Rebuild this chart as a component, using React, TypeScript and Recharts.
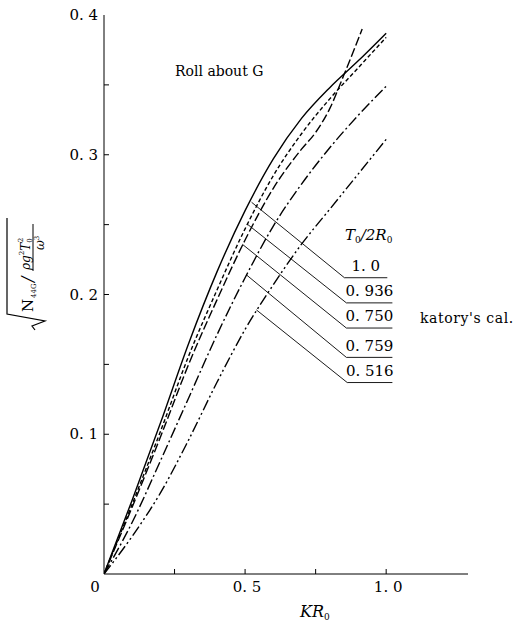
import React from 'react';
import { LineChart, Line, XAxis, YAxis, ReferenceLine, ReferenceDot } from 'recharts';

// KR0 sample points and sqrt(N44G / (rho g^2 T0^2 / w^3))
const kr = [0, 0.1, 0.2, 0.3, 0.4, 0.5, 0.6, 0.7, 0.8, 0.9, 1.0];
const rollT100 = [0, 0.053, 0.108, 0.165, 0.216, 0.26, 0.297, 0.326, 0.348, 0.367, 0.387];
const rollT0936 = [0, 0.05, 0.102, 0.156, 0.203, 0.247, 0.285, 0.315, 0.34, 0.362, 0.384];
const krT0750 = [0, 0.1, 0.2, 0.3, 0.4, 0.5, 0.6, 0.7, 0.75, 0.8, 0.85, 0.915];
const rollT0750 = [0, 0.048, 0.098, 0.15, 0.196, 0.239, 0.276, 0.304, 0.316, 0.333, 0.357, 0.39];
const rollT0759 = [0, 0.037, 0.081, 0.126, 0.171, 0.212, 0.249, 0.279, 0.305, 0.328, 0.349];
const rollT0516 = [0, 0.027, 0.058, 0.096, 0.137, 0.175, 0.207, 0.236, 0.261, 0.286, 0.311];

const xTicks = [0, 0.25, 0.5, 0.75, 1.0];
const xTickLabels: Record<string, string> = { '0': '0', '0.5': '0. 5', '1': '1. 0' };
const yTicks = [0, 0.05, 0.1, 0.15, 0.2, 0.25, 0.3, 0.35, 0.4];
const yTickLabels: Record<string, string> = { '0.1': '0. 1', '0.2': '0. 2', '0.3': '0. 3', '0.4': '0. 4' };

const seriesNames = ['1. 0', '0. 936', '0. 750', '0. 759', '0. 516'];

// leader lines: start on the curve, end at the underline of each label
const leaderFrom = [
  { x: 0.523, y: 0.266 },
  { x: 0.51, y: 0.25 },
  { x: 0.49, y: 0.236 },
  { x: 0.505, y: 0.214 },
  { x: 0.54, y: 0.189 },
];
const leaderTo = [
  { x: 0.852, y: 0.212 },
  { x: 0.859, y: 0.194 },
  { x: 0.859, y: 0.176 },
  { x: 0.859, y: 0.155 },
  { x: 0.862, y: 0.137 },
];
const underlineEnd = [1.004, 1.022, 1.022, 1.022, 1.022];

const toPoints = (xs: number[], ys: number[]) => xs.map((x, i) => ({ x, y: ys[i] }));

const FONT = "'DejaVu Serif', 'Liberation Serif', 'Times New Roman', serif";
const serif = { fontFamily: FONT };

const series = [
  { name: '1.0', data: toPoints(kr, rollT100), dash: undefined },
  { name: '0.936', data: toPoints(kr, rollT0936), dash: '4 2.5' },
  { name: '0.750', data: toPoints(krT0750, rollT0750), dash: '9 3' },
  { name: '0.759', data: toPoints(kr, rollT0759), dash: '11 3 2 3' },
  { name: '0.516', data: toPoints(kr, rollT0516), dash: '11 3 2 3 2 3' },
];

const XTick = (props: any) => {
  const { x, y, payload } = props;
  const v = payload.value;
  const label = xTickLabels[String(v)];
  return (
    <g>
      {v > 0 && <line x1={x} y1={y} x2={x} y2={y - 5} stroke="#000" strokeWidth={1} />}
      {label && (
        <text x={v === 0 ? x - 9 : x + 2} y={y + 18} textAnchor="middle" fontSize={15} style={serif} fill="#000">
          {label}
        </text>
      )}
    </g>
  );
};

const YTick = (props: any) => {
  const { x, y, payload } = props;
  const v = payload.value;
  const label = yTickLabels[String(v)];
  return (
    <g>
      {v > 0 && v < 0.4 && <line x1={x} y1={y} x2={x + 5} y2={y} stroke="#000" strokeWidth={1} />}
      {label && (
        <text x={x - 6} y={y + 5} textAnchor="end" fontSize={15} style={serif} fill="#000">
          {label}
        </text>
      )}
    </g>
  );
};

const App: React.FC = () => {
  return (
    <div style={{ position: 'absolute', left: 0, top: 0, width: 529, height: 624, background: '#fff', fontFamily: FONT }}>
      <LineChart width={529} height={624} margin={{ top: 15, right: 61, left: 0, bottom: 0 }} style={serif}>
        <XAxis
          type="number"
          dataKey="x"
          domain={[0, 1.29]}
          ticks={xTicks}
          interval={0}
          tick={<XTick />}
          tickLine={false}
          tickSize={0}
          tickMargin={0}
          height={50}
          axisLine={{ stroke: '#000', strokeWidth: 1 }}
          allowDataOverflow
        />
        <YAxis
          type="number"
          dataKey="y"
          domain={[0, 0.4]}
          ticks={yTicks}
          interval={0}
          tick={<YTick />}
          tickLine={false}
          tickSize={0}
          tickMargin={0}
          width={104}
          axisLine={{ stroke: '#000', strokeWidth: 1 }}
          allowDataOverflow
        />
        {series.map((s) => (
          <Line
            key={s.name}
            data={s.data}
            dataKey="y"
            type="monotone"
            stroke="#000"
            strokeWidth={1.4}
            strokeDasharray={s.dash}
            dot={false}
            isAnimationActive={false}
          />
        ))}
        {seriesNames.map((name, i) => (
          <ReferenceLine
            key={'lead' + i}
            segment={[leaderFrom[i], leaderTo[i]]}
            stroke="#000"
            strokeWidth={0.9}
            ifOverflow="visible"
          />
        ))}
        {seriesNames.map((name, i) => (
          <ReferenceLine
            key={'under' + i}
            segment={[leaderTo[i], { x: underlineEnd[i], y: leaderTo[i].y }]}
            stroke="#000"
            strokeWidth={0.9}
            ifOverflow="visible"
          />
        ))}
        {seriesNames.map((name, i) => (
          <ReferenceDot
            key={'lab' + i}
            x={(leaderTo[i].x + underlineEnd[i]) / 2}
            y={leaderTo[i].y + 0.0085}
            r={0}
            stroke="none"
            ifOverflow="visible"
            label={{ value: name, position: 'center', fontSize: 15, fill: '#000', style: serif }}
          />
        ))}
      </LineChart>
      <svg width={529} height={624} style={{ position: 'absolute', left: 0, top: 0, pointerEvents: 'none' }}>
        <g fill="#000">
          <text x={175} y={76} fontSize={14} style={serif}>Roll about G</text>
          <text x={345} y={240} fontSize={15} fontStyle="italic" style={serif}>
            T<tspan fontSize={9} dy={3} fontStyle="normal">0</tspan>
            <tspan dy={-3}>/2R</tspan>
            <tspan fontSize={9} dy={3} fontStyle="normal">0</tspan>
          </text>
          <text x={420} y={323} fontSize={14} letterSpacing={0.6} style={serif}>katory's cal.</text>
          <text x={300} y={617} fontSize={16} fontStyle="italic" style={serif}>
            KR<tspan fontSize={9} dy={3} fontStyle="normal">0</tspan>
          </text>
          {/* y axis label, rotated */}
          <g transform="translate(0,330) rotate(-90)">
            <path d="M 0 35 L 4 32 L 9 45 L 16 7 L 112 7" stroke="#000" strokeWidth={1.2} fill="none" />
            <text x={18} y={33} fontSize={15} style={serif}>N</text>
            <text x={32} y={36} fontSize={7} style={serif}>44G</text>
            <text x={48} y={33} fontSize={16} fontStyle="italic" style={serif}>/</text>
            <text x={60} y={30} fontSize={12} fontStyle="italic" style={serif}>
              ρg<tspan fontSize={7} dy={-6} fontStyle="normal">2</tspan>
              <tspan dy={6}>T</tspan>
              <tspan fontSize={7} dy={2} fontStyle="normal">0</tspan>
              <tspan fontSize={7} dy={-9} dx={-4} fontStyle="normal">2</tspan>
            </text>
            <line x1={59} y1={33} x2={106} y2={33} stroke="#000" strokeWidth={1} />
            <text x={80} y={44} fontSize={12} fontStyle="italic" style={serif}>
              ω<tspan fontSize={7} dy={-5} fontStyle="normal">3</tspan>
            </text>
          </g>
        </g>
      </svg>
    </div>
  );
};

export default App;
